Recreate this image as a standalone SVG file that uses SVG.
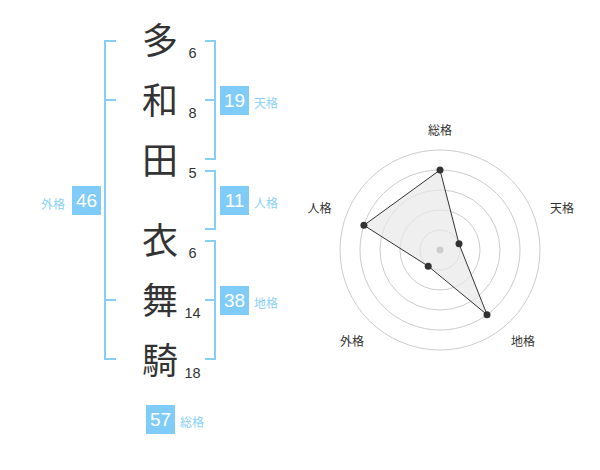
<svg xmlns="http://www.w3.org/2000/svg" width="600" height="470" viewBox="0 0 600 470">
<style>
.k{font-family:"Noto Sans CJK JP","Noto Sans CJK SC",sans-serif;font-size:36px;fill:#333;text-anchor:middle}
.n{font-family:"Liberation Sans",Arial,sans-serif;font-size:14.5px;fill:#333;text-anchor:middle}
.br{fill:none;stroke:#88cdf6;stroke-width:2}
.box{fill:#80ccf8}
.bt{font-family:"Liberation Sans",Arial,sans-serif;font-size:19px;fill:#fff;text-anchor:middle}
.lb{font-family:"Liberation Sans","Noto Sans CJK JP",sans-serif;font-size:12px;fill:#8ad0f7}
.ring{fill:none;stroke:#cccccc;stroke-width:1}
.rl{font-family:"Liberation Sans","Noto Sans CJK JP",sans-serif;font-size:12px;fill:#333;text-anchor:middle}
.dot{fill:#333}
</style>
<rect width="600" height="470" fill="#fff"/>
<g id="chars">
<text class="k" x="160" y="53.5">多</text>
<text class="k" x="160" y="113.5">和</text>
<text class="k" x="160" y="173.5">田</text>
<text class="k" x="160" y="253.5">衣</text>
<text class="k" x="160" y="313.5">舞</text>
<text class="k" x="160" y="373.5">騎</text>
</g>
<g id="strokes">
<text class="n" x="192.5" y="58">6</text>
<text class="n" x="192.5" y="118">8</text>
<text class="n" x="192.5" y="178">5</text>
<text class="n" x="192.5" y="258">6</text>
<text class="n" x="192.5" y="318">14</text>
<text class="n" x="192.5" y="378">18</text>
</g>
<g id="connectors">
<path class="br" d="M116,41 H105 V359 H116 M105,100 H116 M105,300 H116"/>
<path class="br" d="M205,41 H215 V159 H205 M205,100 H215"/>
<path class="br" d="M205,171 H215 V229 H205"/>
<path class="br" d="M205,241 H215 V359 H205 M205,300 H215"/>
</g>
<g id="tenkaku">
<rect class="box" x="220" y="86" width="29" height="29"/>
<text class="bt" x="234.5" y="107">19</text>
<text class="lb" x="254" y="108">天格</text>
</g>
<g id="jinkaku">
<rect class="box" x="220" y="186" width="29" height="29"/>
<text class="bt" x="234.5" y="207">11</text>
<text class="lb" x="254" y="208">人格</text>
</g>
<g id="chikaku">
<rect class="box" x="220" y="286" width="29" height="29"/>
<text class="bt" x="234.5" y="307">38</text>
<text class="lb" x="254" y="308">地格</text>
</g>
<g id="gaikaku">
<rect class="box" x="72" y="186" width="29" height="29"/>
<text class="bt" x="86.5" y="207">46</text>
<text class="lb" x="41" y="209">外格</text>
</g>
<g id="soukaku">
<rect class="box" x="146" y="405" width="29" height="29"/>
<text class="bt" x="160.5" y="426">57</text>
<text class="lb" x="180" y="427">総格</text>
</g>
<g id="radar">
<circle class="ring" cx="440" cy="250" r="20"/>
<circle class="ring" cx="440" cy="250" r="40"/>
<circle class="ring" cx="440" cy="250" r="60"/>
<circle class="ring" cx="440" cy="250" r="80"/>
<circle class="ring" cx="440" cy="250" r="100"/>
<polygon points="440,170 459,243.8 487,314.7 428.2,266.2 363.9,225.3" fill="#e8e8e8" fill-opacity="0.7" stroke="#333" stroke-width="1"/>
<circle cx="440" cy="250" r="3.5" fill="#ccc"/>
<circle class="dot" cx="440" cy="170" r="3.5"/>
<circle class="dot" cx="459" cy="243.8" r="3.5"/>
<circle class="dot" cx="487" cy="314.7" r="3.5"/>
<circle class="dot" cx="428.2" cy="266.2" r="3.5"/>
<circle class="dot" cx="363.9" cy="225.3" r="3.5"/>
<text class="rl" x="440" y="135">総格</text>
<text class="rl" x="562" y="212.5">天格</text>
<text class="rl" x="523" y="346">地格</text>
<text class="rl" x="352" y="346">外格</text>
<text class="rl" x="319.5" y="212.5">人格</text>
</g>
</svg>
